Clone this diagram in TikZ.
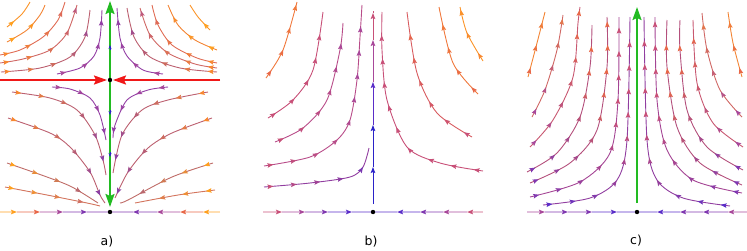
\documentclass[tikz,border=0pt]{standalone}
\usepackage{fontspec}
\setsansfont{DejaVu Sans}
\usepackage{tikz}
\usetikzlibrary{arrows.meta,decorations.markings}

\definecolor{p0}{HTML}{2A22C8}
\definecolor{p1}{HTML}{5A2DC8}
\definecolor{p2}{HTML}{8038B0}
\definecolor{p3}{HTML}{A8489A}
\definecolor{p4}{HTML}{C85078}
\definecolor{p5}{HTML}{E86848}
\definecolor{p6}{HTML}{F88830}
\definecolor{p7}{HTML}{FFA020}
\definecolor{greenarr}{HTML}{22BB22}
\definecolor{redarr}{HTML}{F01818}

\tikzset{
  gap/.store in=\flowgap, gap=23.5pt,
  lead/.store in=\flowlead, lead=9.5pt,
  fade/.store in=\flowfade, fade=18,
  stream/.style 2 args={draw=#1!50!#2, line width=0.9pt, postaction={decorate},
    decoration={markings, mark=between positions \flowlead\space and -2pt step \flowgap\space with {
      \pgfmathtruncatemacro\mixpc{max(0,100-\flowfade*(\pgfkeysvalueof{/pgf/decoration/mark info/sequence number}-1))}
      \arrow{Stealth[length=6pt,width=4.5pt,inset=1pt,color=#1!\mixpc!#2]}}}},
  floor/.style={line width=1.6pt, draw=#1!35, -{Stealth[length=6pt,width=4.5pt,inset=1pt,color=#1]}},
  riser/.style={line width=1pt, draw=#1, -{Stealth[length=6pt,width=4.5pt,inset=1pt]}},
  bigarrow/.style={line width=2pt, -{Stealth[length=13pt,width=9pt,inset=2pt]}},
  label/.style={font=\sffamily\fontsize{12.5}{14}\selectfont},
}

\begin{document}
\begin{tikzpicture}[x=1pt,y=-1pt]
\useasboundingbox (0,0) rectangle (747,250);
\coordinate (sa) at (110,80);
\coordinate (na) at (110,212);
\coordinate (nb) at (373,212);
\coordinate (nc) at (637,212);

% a) upper half
\draw[stream={p3}{p2}] plot[smooth] coordinates {(57,74) (80,68) (94,56) (100,38) (102,10)};
\draw[stream={p6}{p2}] plot[smooth] coordinates {(1,72) (40,68) (70,57) (85,37) (90,10)};
\draw[stream={p6}{p3}] plot[smooth] coordinates {(0,63) (23,59) (50,50) (67,33) (77,5)};
\draw[stream={p6}{p4}] plot[smooth] coordinates {(0,55) (20,50) (43,37) (58,20) (65,2)};
\draw[stream={p7}{p5}] plot[smooth] coordinates {(7,42) (27,30) (40,15) (45,5)};
\draw[stream={p7}{p6}] plot[smooth] coordinates {(7,27) (22,14) (30,2)};
\draw[stream={p3}{p2}] plot[smooth] coordinates {(163,74) (143,70) (127,56) (120,38) (117,8)};
\draw[stream={p6}{p2}] plot[smooth] coordinates {(217,72) (180,68) (150,57) (134,37) (127,8)};
\draw[stream={p6}{p3}] plot[smooth] coordinates {(217,68) (195,64) (168,53) (150,35) (140,8)};
\draw[stream={p6}{p4}] plot[smooth] coordinates {(217,63) (197,58) (172,45) (158,25) (152,5)};
\draw[stream={p7}{p5}] plot[smooth] coordinates {(217,50) (195,40) (178,25) (168,5)};
\draw[stream={p7}{p6}] plot[smooth] coordinates {(210,30) (198,17) (190,5)};
% a) lower half
\draw[stream={p3}{p2}] plot[smooth] coordinates {(52,87) (70,89) (90,98) (100,115) (106,140)};
\draw[stream={p6}{p2}] plot[smooth] coordinates {(12,92) (50,98) (77,110) (95,135) (103,160) (106,175)};
\draw[stream={p6}{p2}] plot[smooth] coordinates {(8,118) (50,133) (70,147) (90,172) (100,195) (105,203)};
\draw[stream={p7}{p2}] plot[smooth] coordinates {(7,163) (47,177) (72,187) (98,203)};
\draw[stream={p7}{p3}] plot[smooth] coordinates {(5,187) (47,195) (87,203) (100,206)};
\draw[stream={p3}{p2}] plot[smooth] coordinates {(168,87) (148,90) (127,100) (115,125) (113,138)};
\draw[stream={p6}{p2}] plot[smooth] coordinates {(208,92) (168,100) (142,110) (122,135) (113,173)};
\draw[stream={p6}{p2}] plot[smooth] coordinates {(212,118) (172,133) (148,148) (128,172) (115,198)};
\draw[stream={p7}{p2}] plot[smooth] coordinates {(213,163) (172,177) (128,200) (120,203)};
\draw[stream={p7}{p3}] plot[smooth] coordinates {(215,190) (178,195) (135,203)};
% a) axis
\foreach \xa/\xb/\cc in {0/17/p7,17/40/p5,40/63/p3,63/87/p2,220/203/p7,203/180/p5,180/157/p3,157/133/p2}
  \draw[floor=\cc] (\xa,212) -- (\xb,212);
\draw[line width=1.6pt, p2!35] (87,212) -- (133,212);
\draw[bigarrow, greenarr] (sa) -- (110,1);
\draw[bigarrow, greenarr, shorten >=5pt] (sa) -- (na);
\draw[bigarrow, redarr, shorten >=3pt] (0,80) -- (sa);
\draw[bigarrow, redarr, shorten >=3pt] (220,80) -- (sa);
\draw[p0, line width=0.6pt, -{Stealth[length=4pt,width=3pt]}] (110,50) -- (110,45);
\draw[p0, line width=0.6pt, -{Stealth[length=4pt,width=3pt]}] (110,110) -- (110,115);
\draw[p0, line width=0.6pt, -{Stealth[length=4pt,width=3pt]}] (110,152) -- (110,157);
\fill (sa) circle (2.2pt);
\fill (na) circle (2.2pt);
\node[label] (la) at (107,242) {a)};

% b)
\draw[stream={p4}{p1}] plot[smooth] coordinates {(264,187) (310,183) (350,177) (363,167) (369,148)};
\draw[stream={p4}{p3}] plot[smooth] coordinates {(264,166) (310,157) (337,140) (350,120) (357,80) (360,37) (362,5)};
\draw[stream={p4}{p3}] plot[smooth] coordinates {(275,142) (303,128) (327,100) (340,50) (343,23)};
\draw[stream={p4}{p4}] plot[smooth] coordinates {(268,118) (293,100) (313,70) (323,12)};
\draw[stream={p5}{p6}] plot[smooth] coordinates {(266,78) (283,50) (297,2)};
\draw[stream={p4}{p4}] plot[smooth] coordinates {(483,171) (440,163) (407,147) (387,100) (382,50) (382,12)};
\draw[stream={p4}{p5}] plot[smooth] coordinates {(472,137) (437,113) (417,73) (407,12)};
\draw[stream={p5}{p6}] plot[smooth] coordinates {(478,94) (453,63) (439,7)};
\draw[stream={p6}{p7}] plot[smooth] coordinates {(483,61) (467,33) (460,7)};
\foreach \ya/\yb/\cc in {204/167/p0,167/125/p0,125/82/p1,82/40/p3,40/13/p4}
  \draw[riser=\cc] (373,\ya) -- (373,\yb);
\draw[line width=1pt, p4] (373,13) -- (373,11);
\foreach \xa/\xb/\cc in {263/282/p4,282/305/p3,305/328/p2,328/352/p1,483/467/p4,467/443/p3,443/420/p2,420/397/p1}
  \draw[floor=\cc] (\xa,212) -- (\xb,212);
\draw[line width=1.6pt, p1!35] (352,212) -- (397,212);
\fill (nb) circle (2.2pt);
\node[label] (lb) at (371,242) {b)};

% c)
\draw[stream={p1}{p4}] plot[smooth] coordinates {(543,205) (590,198) (617,180) (627,140) (630,17)};
\draw[stream={p2}{p4}] plot[smooth] coordinates {(530,197) (580,182) (610,153) (618,100) (619,17)};
\draw[stream={p2}{p5}] plot[smooth] coordinates {(530,183) (570,163) (597,130) (607,67) (607,17)};
\draw[stream={p2}{p5}] plot[smooth] coordinates {(527,172) (557,153) (580,117) (590,67) (592,25)};
\draw[stream={p3}{p5}] plot[smooth] coordinates {(530,147) (553,120) (573,77) (578,23) (580,7)};
\draw[stream={p3}{p6}] plot[smooth] coordinates {(532,117) (545,90) (557,50) (563,15)};
\draw[stream={p5}{p7}] plot[smooth] coordinates {(528,77) (537,43) (545,12)};
\draw[stream={p1}{p4}] plot[smooth] coordinates {(730,206) (683,198) (657,180) (647,140) (644,17)};
\draw[stream={p2}{p4}] plot[smooth] coordinates {(742,193) (693,180) (667,150) (657,100) (655,17)};
\draw[stream={p2}{p5}] plot[smooth] coordinates {(742,185) (700,163) (677,127) (667,67) (667,20)};
\draw[stream={p2}{p5}] plot[smooth] coordinates {(743,170) (707,147) (687,110) (680,50) (680,20)};
\draw[stream={p3}{p5}] plot[smooth] coordinates {(743,147) (713,123) (697,83) (693,20)};
\draw[stream={p3}{p6}] plot[smooth] coordinates {(742,117) (720,90) (707,50) (702,13)};
\draw[stream={p5}{p7}] plot[smooth] coordinates {(742,77) (733,43) (728,12)};
\foreach \xa/\xb/\cc in {527/545/p3,545/568/p2,568/592/p2,592/617/p1,747/728/p3,728/703/p2,703/680/p2,680/657/p1}
  \draw[floor=\cc] (\xa,212) -- (\xb,212);
\draw[line width=1.6pt, p1!35] (617,212) -- (657,212);
\draw[bigarrow, greenarr, shorten <=9pt] (nc) -- (637,7);
\fill (nc) circle (2.2pt);
\node[label] (lc) at (636,241) {c)};
\end{tikzpicture}
\end{document}
